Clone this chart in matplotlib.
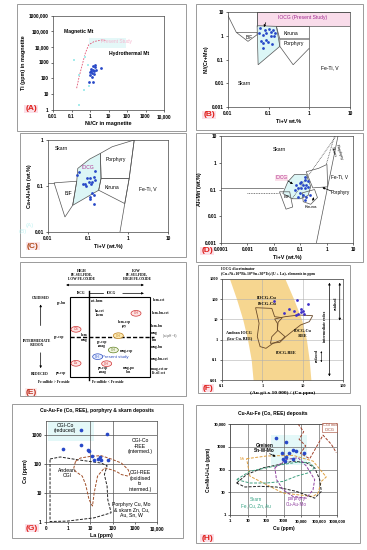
import numpy as np
import matplotlib
matplotlib.use('Agg')
import matplotlib.pyplot as plt
from matplotlib.patches import Rectangle, Polygon, Ellipse
from matplotlib.ticker import NullLocator

plt.rcParams['font.family'] = ['Liberation Sans', 'DejaVu Sans']

# ---------------- data ----------------
# (A) Ti vs Ni/Cr in magnetite
A_nicr = [1.5, 1.8, 1.2, 1.4, 1.6, 1.1, 2.0, 1.3, 1.0, 1.7, 0.9, 1.5, 4.0, 1.9, 0.95, 1.25]
A_ti = [600, 500, 400, 350, 300, 280, 330, 220, 150, 180, 60, 60, 450, 700, 250, 120]
A_nicr_prev = [0.14, 0.26, 0.56, 0.75, 0.49, 0.92, 0.26]
A_ti_prev = [1500, 160, 2400, 700, 18, 30, 2]
A_curve_x = [0.19, 0.26, 0.4, 0.56, 0.85, 1.7, 4.9, 7.4]
A_curve_y = [23, 126, 900, 4000, 13500, 22000, 28000, 25000]

# (B) Ni/(Cr+Mn) vs Ti+V
B_tiv = [0.060, 0.080, 0.10, 0.117, 0.129, 0.088, 0.073, 0.111, 0.134, 0.085, 0.097, 0.124,
         0.073, 0.073, 0.063, 0.058, 0.14]
B_ni = [2.1, 1.8, 1.9, 1.5, 1.8, 1.3, 1.1, 0.94, 0.94, 0.68, 0.53, 0.46, 0.49, 0.30, 0.58, 1.3, 1.3]
B_iocg = [(0.052, 2.65), (0.155, 2.49), (0.188, 0.357), (0.055, 0.06)]
B_kiruna = [(0.155, 2.49), (1.0, 2.49), (1.0, 0.73), (0.188, 0.73)]
B_porph = [(0.188, 0.73), (1.0, 0.73), (1.0, 0.30), (0.40, 0.06), (0.188, 0.357)]
B_bif = [(0.016, 1.39), (0.052, 1.39), (0.052, 1.11), (0.031, 0.58)]
B_left = [(0.01, 7.0), (0.016, 1.39)]

# (C) Ca+Al+Mn vs Ti+V
C_tiv = [0.058, 0.052, 0.094, 0.11, 0.138, 0.153, 0.126, 0.103, 0.085, 0.077, 0.119, 0.090,
         0.126, 0.138, 0.114, 0.11, 0.144, 0.153]
C_caalmn = [0.197, 0.172, 0.146, 0.153, 0.159, 0.134, 0.123, 0.123, 0.113, 0.108, 0.108, 0.101,
            0.069, 0.063, 0.058, 0.052, 0.041, 0.211]
C_bif = [(0.0142, 0.117), (0.0523, 0.127), (0.0414, 0.038), (0.0265, 0.0212)]
C_iocg = [(0.0523, 0.127), (0.0555, 0.241), (0.110, 0.385), (0.204, 0.512), (0.212, 0.146),
          (0.185, 0.081), (0.0414, 0.038)]
C_porph = [(0.204, 0.512), (0.404, 0.715), (1.43, 1.0), (1.07, 0.146), (0.212, 0.146)]
C_kiruna = [(0.212, 0.146), (1.07, 0.146), (0.83, 0.0415), (0.185, 0.081)]
C_fetiv = [(1.43, 1.0), (1.07, 0.146), (0.83, 0.0415), (0.63, 0.01)]

# (D) Al+Mn vs Ti+V
D_tiv = [0.0705, 0.0944, 0.109, 0.146, 0.126, 0.169, 0.0815, 0.109, 0.146, 0.195, 0.061,
         0.0944, 0.126, 0.169, 0.226, 0.0815, 0.146, 0.19, 0.15]
D_almn = [0.145, 0.168, 0.194, 0.224, 0.145, 0.145, 0.109, 0.109, 0.109, 0.126, 0.094,
          0.071, 0.061, 0.053, 0.061, 0.053, 0.040, 0.20, 0.30]
D_iocg = [(0.022, 0.071), (0.034, 0.194), (0.061, 0.365), (0.169, 0.365), (0.25, 0.13),
          (0.20, 0.06), (0.10, 0.045), (0.05, 0.045)]
D_porph = [(0.169, 0.46), (0.5, 0.62), (1.03, 0.866), (1.1, 0.126), (0.30, 0.115)]
D_bif = [(0.0164, 0.082), (0.04, 0.082), (0.052, 0.0222), (0.029, 0.0184)]
D_kiruna = [(0.12, 0.075), (0.35, 0.10), (0.45, 0.05), (0.25, 0.028), (0.13, 0.035)]

# (F) IOCG discriminator
F_ratio = [1.94, 7.3, 13.2, 8.9, 10.2, 4.6, 6.0, 3.5, 7.7, 10.8, 6.9, 8.9]
F_disc = [81, 95, 60, 33, 27, 31, 26, 21.5, 17.8, 17.8, 16.5, 24]
F_band_y = [1000, 100, 10, 1, 0.1, 0.01]
F_band_left = [0.154, 0.23, 0.327, 0.43, 0.53, 0.59]
F_band_right = [3.65, 6.0, 9.4, 12.4, 14.5, 16.0]
F_andean = [(0.68, 38), (1.72, 35), (2.02, 13.6), (3.12, 12.2), (2.46, 7.2), (2.36, 3.0),
            (3.65, 1.40), (2.99, 0.95), (1.83, 0.65), (1.23, 0.37), (0.88, 0.45), (0.75, 1.40),
            (0.83, 6.4)]
F_cuRee = [(2.02, 10.5), (3.65, 13.6), (8.05, 16.5), (17.7, 15.3), (14.6, 7.7), (8.88, 5.3),
           (5.42, 2.47), (3.80, 1.40), (2.71, 0.73), (1.59, 0.65), (1.72, 1.40), (2.36, 2.67),
           (2.36, 6.4)]

# (G) Co vs La
G_la = [0.58, 3.6, 3.6, 56.5, 7.9, 8.7, 12.4, 13.8, 21, 30, 65, 26]
G_co = [320, 1490, 452, 1030, 304, 266, 179, 137, 145, 130, 137, 170]
G_andean = [(0.152, 145), (0.44, 170), (2.55, 137), (30, 105), (56.5, 85), (42.6, 42),
            (56.5, 16.5), (60.7, 5.7), (86, 2.0), (14.8, 1.34), (0.89, 1.03), (0.152, 1.0)]
G_ree = [(2.14, 120), (3.6, 157), (10.4, 179), (30, 189), (86, 145), (248, 105), (501, 62),
         (598, 42), (501, 37), (248, 42), (146, 54), (86, 62), (42.6, 71), (21, 37), (14.8, 9.8),
         (12.4, 3.4), (8.7, 5.7), (6.1, 19), (4.3, 37), (2.14, 54), (1.79, 71)]

# (H) Co+Ni+U+La vs Cu
H_cu = [370, 1340, 875, 3450, 4860, 2060, 1460, 3450, 13600, 950, 1180]
H_sum = [2390, 1700, 514, 723, 653, 551, 366, 298, 514, 278, 234]
H_cgi = [(6560, 10000), (13600, 4560), (7470, 2150), (17600, 1090), (8870, 514), (29400, 298),
         (86100, 1290), (164000, 3240), (479000, 1290), (910000, 551)]
H_orange = [(8.5, 298), (112, 392), (3450, 419), (45200, 234), (251000, 47), (132000, 30),
            (86100, 9.2), (45200, 6.5), (955, 9.2), (73, 25.5), (13.1, 51)]
H_black = [(2.36, 25.5), (8.5, 60), (73, 119), (621, 167), (3450, 234), (19200, 198),
           (56100, 119), (107000, 36), (132000, 10.9), (56100, 5.5), (5300, 10.9), (405, 17),
           (47, 18.2), (6.9, 17)]
H_green = [(2.36, 36), (13.1, 84), (112, 119), (955, 167), (6560, 212), (29400, 198),
           (56100, 119), (23800, 71), (5300, 51), (955, 30), (112, 25.5), (13.1, 25.5)]
H_purple = [(327, 119), (1465, 278), (6560, 330), (19200, 141), (56100, 36), (45200, 12.9),
            (19200, 5.5), (3450, 6.5), (955, 12.9), (405, 36)]

# ---------------- layout helpers ----------------
W, H = 367, 550
fig = plt.figure(figsize=(3.67, 5.5), dpi=100)
fig.patch.set_facecolor('white')
BLUE = '#2848c8'
RED = '#e0201c'

bg = fig.add_axes([0, 0, 1, 1])
bg.set_xlim(0, W)
bg.set_ylim(H, 0)
bg.axis('off')
for (l, t, r, b) in [(17, 4, 186, 131), (196, 4, 363, 130), (20, 133, 186, 257),
                     (196, 133, 363, 262), (20, 262, 186, 396), (198, 265, 350, 393),
                     (12, 404, 183, 538), (196, 405, 360, 543)]:
    bg.add_patch(Rectangle((l, t), r - l, b - t, fill=False, ec='#9a9a9a', lw=0.7))


def axes_px(l, t, r, b):
    return fig.add_axes([l / W, 1 - b / H, (r - l) / W, (b - t) / H])


def style(ax, xlim, ylim, xt, xtl, yt, ytl, xlabel, ylabel, fs=3.4, lfs=3.9):
    ax.set_xscale('log')
    ax.set_yscale('log')
    ax.set_xticks(xt)
    ax.set_xticklabels(xtl)
    ax.set_yticks(yt)
    ax.set_yticklabels(ytl)
    ax.xaxis.set_minor_locator(NullLocator())
    ax.yaxis.set_minor_locator(NullLocator())
    ax.set_xlim(*xlim)
    ax.set_ylim(*ylim)
    ax.tick_params(labelsize=fs, length=1.5, width=0.4, pad=1.5)
    for lb in ax.get_xticklabels() + ax.get_yticklabels():
        lb.set_fontweight('bold')
    ax.set_xlabel(xlabel, fontsize=lfs, fontweight='bold', labelpad=2)
    ax.set_ylabel(ylabel, fontsize=lfs, fontweight='bold', labelpad=2)
    for s in ax.spines.values():
        s.set_linewidth(0.5)
        s.set_color('#444444')


def panel_label(x, y, s, color=RED, bgc='#fbe0e8'):
    bg.text(x, y, s, fontsize=6.0, fontweight='bold', color=color, ha='center', va='center',
            bbox=dict(boxstyle='square,pad=0.1', fc=bgc, ec='none'))


def poly(ax, pts, **kw):
    ax.add_patch(Polygon(pts, closed=True, **kw))


def line(ax, pts, **kw):
    xs, ys = zip(*pts)
    ax.plot(xs, ys, **kw)

# ---------------- (A) ----------------
axA = axes_px(53, 15.5, 164, 109.5)
style(axA, (0.01, 10000), (1, 1e6), [0.01, 0.1, 1, 10, 100, 1000, 10000],
      ['0.01', '0.1', '1', '10', '100', '1000', '10,000'],
      [1, 10, 100, 1000, 1e4, 1e5, 1e6], ['1', '10', '100', '1000', '10,000', '100,000', '1000,000'],
      'Ni/Cr in magnetite', 'Ti (ppm) in magnetite')
axA.add_patch(Rectangle((0.9, 9000), 90, 30000, fc='#e4f8f8', ec='none', zorder=0))
axA.text(4, 22000, 'Present Study', fontsize=3.5, color='#f4b8d0', ha='left', va='center')
axA.plot(A_curve_x, A_curve_y, ls=(0, (2, 1.5)), color='#e05070', lw=0.6)
axA.scatter(A_nicr_prev, A_ti_prev, s=2, color='#a8ecec', marker='s', lw=0, zorder=2)
axA.scatter(A_nicr, A_ti, s=4, color=BLUE, lw=0, zorder=3)
axA.text(0.04, 9e4, 'Magnetic Mt', fontsize=3.6, fontweight='bold', ha='left', va='center')
axA.text(11, 3500, 'Hydrothermal Mt', fontsize=3.6, fontweight='bold', ha='left', va='center')
panel_label(31, 109, '(A)')

# ---------------- (B) ----------------
axB = axes_px(228, 12, 350, 107)
style(axB, (0.01, 10), (0.001, 10), [0.01, 0.1, 1, 10], ['0.01', '0.1', '1', '10'],
      [0.001, 0.01, 0.1, 1, 10], ['0.001', '0.01', '0.1', '1', '10'], 'Ti+V wt.%', 'Ni/(Cr+Mn)')
axB.add_patch(Rectangle((0.052, 2.65), 10 - 0.052, 10 - 2.65, fc='#f9dcea', ec='#555555', lw=0.5, zorder=0))
poly(axB, B_iocg, fc='#dcf6f6', ec='#555555', lw=0.5, zorder=1)
poly(axB, B_kiruna, fill=False, ec='#555555', lw=0.5)
poly(axB, B_porph, fill=False, ec='#555555', lw=0.5)
poly(axB, B_bif, fill=False, ec='#555555', lw=0.5)
line(axB, B_left, color='#555555', lw=0.5)
line(axB, [(0.052, 10), (0.052, 2.65)], color='#555555', lw=0.5)
line(axB, [(1.0, 0.30), (1.0, 0.001)], color='#555555', lw=0.5)
axB.scatter(B_tiv, B_ni, s=4, color=BLUE, lw=0, zorder=3)
axB.annotate('', xy=(0.072, 1.8), xytext=(0.09, 4.6),
             arrowprops=dict(arrowstyle='-|>', lw=0.5, color='black', mutation_scale=3))
axB.text(0.7, 6.1, 'IOCG (Present Study)', fontsize=3.6, color='#a02890', ha='center', va='center')
axB.text(0.034, 0.88, 'BIF', fontsize=3.3, ha='center', va='center')
axB.text(0.36, 1.3, 'Kiruna', fontsize=3.6, ha='center', va='center')
axB.text(0.42, 0.48, 'Porphyry', fontsize=3.6, ha='center', va='center')
axB.text(0.026, 0.0095, 'Skarn', fontsize=3.6, ha='center', va='center')
axB.text(3.2, 0.044, 'Fe-Ti, V', fontsize=3.6, ha='center', va='center')
panel_label(209, 115, '(B)')

# ---------------- (C) ----------------
axC = axes_px(48, 140, 168, 232)
style(axC, (0.01, 10), (0.01, 1), [0.01, 0.1, 1, 10], ['0.01', '0.1', '1', '10'],
      [0.01, 0.1, 1], ['0.01', '0.1', '1'], 'Ti+V (wt.%)', 'Ca+Al+Mn (wt.%)')
poly(axC, C_iocg, fc='#dcf6f6', ec='#555555', lw=0.5, zorder=1)
poly(axC, C_bif, fill=False, ec='#555555', lw=0.5)
poly(axC, C_porph, fill=False, ec='#555555', lw=0.5)
poly(axC, C_kiruna, fill=False, ec='#555555', lw=0.5)
line(axC, C_fetiv, color='#555555', lw=0.5)
line(axC, [(0.01, 0.117), (0.0142, 0.117)], color='#555555', lw=0.5)
axC.scatter(C_tiv, C_caalmn, s=4, color=BLUE, lw=0, zorder=3)
axC.text(0.022, 0.64, 'Skarn', fontsize=3.6, ha='center', va='center')
axC.text(0.49, 0.385, 'Porphyry', fontsize=3.6, ha='center', va='center')
axC.text(0.097, 0.25, 'IOCG', fontsize=3.6, color='#b03090', ha='center', va='center')
axC.text(0.40, 0.091, 'Kiruna', fontsize=3.6, ha='center', va='center')
axC.text(0.032, 0.068, 'BIF', fontsize=3.6, ha='center', va='center')
axC.text(3.1, 0.088, 'Fe-Ti, V', fontsize=3.6, ha='center', va='center')
bg.text(30, 226, '(A)', fontsize=4.5, color='#b8f0f0', ha='center', va='center', alpha=0.8)
bg.text(23, 232, '(B)', fontsize=4.5, color='#b8f0f0', ha='center', va='center', alpha=0.8)
panel_label(33, 246, '(C)', color='#b04818', bgc='#fbe6ea')

# ---------------- (D) ----------------
axD = axes_px(221, 136, 353, 243)
style(axD, (0.0001, 10), (0.001, 10), [0.0001, 0.001, 0.01, 0.1, 1, 10],
      ['0.0001', '0.001', '0.01', '0.1', '1', '10'],
      [0.001, 0.01, 0.1, 1, 10], ['0.001', '0.01', '0.1', '1', '10'], 'Ti+V (wt.%)', 'Al+Mn (wt.%)')
line(axD, [(0.0001, 0.115), (0.022, 0.115)], color='#555555', lw=0.5)
line(axD, [(0.001, 0.071), (0.0163, 0.071)], color='#555555', lw=0.6, ls=(0, (1, 1)))
line(axD, [(0.05, 0.046), (2.2, 9.4)], color='#555555', lw=0.6, ls=(0, (1, 1)))
line(axD, [(2.0, 10), (0.97, 0.87)], color='#555555', lw=0.6, ls=(0, (1, 1)))
line(axD, [(2.7, 10), (1.1, 0.126), (0.41, 0.001)], color='#555555', lw=0.5)
poly(axD, D_iocg, fc='#dcf6f6', ec='#555555', lw=0.5, zorder=1)
poly(axD, D_porph, fill=False, ec='#555555', lw=0.5)
poly(axD, D_bif, fill=False, ec='#555555', lw=0.5)
poly(axD, D_kiruna, fill=False, ec='#555555', lw=0.5)
axD.scatter(D_tiv, D_almn, s=4, color=BLUE, lw=0, zorder=3)
axD.text(0.0164, 3.0, 'Skarn', fontsize=3.6, ha='center', va='center')
axD.text(3.0, 0.30, 'Fe-Ti, V', fontsize=3.4, ha='center', va='center')
axD.text(3.4, 0.075, 'Porphyry', fontsize=3.4, ha='center', va='center')
axD.text(0.020, 0.27, 'IOCG', fontsize=3.4, color='#b03090', ha='center', va='center',
         bbox=dict(boxstyle='square,pad=0.1', fc='#fbe0ea', ec='none'))
axD.text(0.031, 0.052, 'BIF', fontsize=3.0, ha='center', va='center')
axD.text(0.26, 0.022, 'Kiruna', fontsize=3.2, ha='center', va='center')
axD.text(1.75, 2.5, 'Skarn', fontsize=3.0, rotation=-72, ha='center', va='center')
axD.text(2.9, 2.5, 'Porphyry', fontsize=3.0, rotation=-72, ha='center', va='center')
axD.annotate('', xy=(0.065, 0.14), xytext=(0.028, 0.24),
             arrowprops=dict(arrowstyle='-|>', lw=0.5, color='black', mutation_scale=3))
axD.annotate('', xy=(0.55, 0.13), xytext=(1.9, 0.08),
             arrowprops=dict(arrowstyle='-|>', lw=0.5, color='black', mutation_scale=3))
axD.annotate('', xy=(0.35, 0.065), xytext=(0.28, 0.03),
             arrowprops=dict(arrowstyle='-|>', lw=0.5, color='black', mutation_scale=3))
panel_label(207, 251, '(D)')

# ---------------- (E) schematic ----------------
axE = axes_px(0, 265, 185, 405)
axE.set_xlim(0, 555)
axE.set_ylim(420, 0)
axE.axis('off')
ser = dict(family=['Liberation Serif', 'DejaVu Serif'], fontweight='bold', ha='center', va='center')
fsE = 2.6
axE.text(245, 30, 'HIGH\nFE-SULFIDE,\nLOW FE-OXIDE', fontsize=fsE, linespacing=1.1, **ser)
axE.text(410, 30, 'LOW\nFE-SULFIDE,\nHIGH FE-OXIDE', fontsize=fsE, linespacing=1.1, **ser)
axE.annotate('', xy=(440, 60), xytext=(190, 60),
             arrowprops=dict(arrowstyle='<|-|>', lw=0.5, color='black', mutation_scale=3))
axE.text(245, 85, 'ISCG', fontsize=fsE, **ser)
axE.text(335, 85, 'IOCG', fontsize=fsE, **ser)
axE.plot([268, 310], [85, 85], color='black', lw=0.5)
axE.annotate('', xy=(440, 85), xytext=(360, 85),
             arrowprops=dict(arrowstyle='-|>', lw=0.5, color='black', mutation_scale=3))
axE.add_patch(Rectangle((210, 95), 240, 240, fill=False, ec='black', lw=0.8))
axE.plot([268, 268], [78, 345], color='black', lw=1.0)
axE.plot([210, 462], [215, 215], color='black', lw=1.0, ls=(0, (3, 1.5)))
axE.text(122, 100, 'OXIDISED', fontsize=fsE, **ser)
axE.annotate('', xy=(122, 110), xytext=(122, 190),
             arrowprops=dict(arrowstyle='-|>', lw=0.5, color='black', mutation_scale=3))
axE.text(112, 235, 'INTERMEDIATE\n-REDOX', fontsize=fsE, linespacing=1.1, **ser)
axE.annotate('', xy=(122, 318), xytext=(122, 255),
             arrowprops=dict(arrowstyle='-|>', lw=0.5, color='black', mutation_scale=3))
axE.text(118, 327, 'REDUCED', fontsize=fsE, **ser)
for (x, y, s) in [(185, 115, 'py-bn'), (178, 215, 'py-ccp'), (182, 325, 'po-ccp'),
                  (292, 107, 'cct-hem'), (298, 143, 'bn-cct\n-hem'), (372, 177, 'hem-ccp\n-py'),
                  (254, 209, 'hem'), (252, 226, 'mag'), (306, 238, 'py-ccp\n-mag'),
                  (380, 258, 'mag-ccp'), (308, 316, 'po-ccp\n-mag'), (385, 316, 'mag-po\n-bn'),
                  (478, 105, 'hem-cct'), (482, 145, 'hem-bn-cct'), (470, 183, 'hem-bn'),
                  (462, 204, 'mag'), (462, 224, 'hm'), (472, 245, 'mag-bn'),
                  (480, 282, 'mag-bn-cct'), (478, 317, 'mag-cct or\nFe-sil-cct'),
                  (160, 352, 'Fe sulfide > Fe oxide'), (322, 352, 'Fe sulfide < Fe oxide')]:
    axE.text(x, y, s, fontsize=fsE, linespacing=1.1, **ser)
axE.text(510, 212, '(at pH ~6)', fontsize=2.2, color='#555555', ha='center', va='center')
axE.text(345, 275, 'Present study', fontsize=3.2, color='#3050c0', ha='center', va='center')
for (x, y, s, ec, fc) in [(228, 193, 'OS', '#d03030', '#fde4e4'), (408, 145, 'OH', '#d03030', '#fde4e4'),
                          (355, 212, 'OH', '#c08020', '#fbe8b0'), (340, 255, 'OH', '#608020', '#f0f4e0'),
                          (228, 295, 'Do', '#d03030', '#fde4e4'), (320, 296, 'OH', '#d03030', '#fde4e4'),
                          (293, 275, 'CH', '#3050c0', '#e4ecff')]:
    axE.add_patch(Ellipse((x, y), 30, 17, fc=fc, ec=ec, lw=0.5, zorder=3))
    axE.text(x, y, s, fontsize=2.3, color=ec, ha='center', va='center', zorder=4)
panel_label(31, 392, '(E)', color='#c03020', bgc='#fdecec')

# ---------------- (F) ----------------
axF = axes_px(222, 279, 343, 380)
style(axF, (0.1, 100), (0.01, 1000), [0.1, 1, 10, 100], ['0.1', '1', '10', '100'],
      [0.01, 0.1, 1, 10, 100, 1000], ['0.01', '0.1', '1', '10', '100', '1000'],
      '(Au g/t x 10 000) / (Cu ppm)', '', fs=3.2)
for lb in axF.get_xticklabels() + axF.get_yticklabels():
    lb.set_family(['Liberation Serif', 'DejaVu Serif'])
axF.xaxis.label.set_family(['Liberation Serif', 'DejaVu Serif'])
axF.grid(True, color='#b0b0b0', lw=0.4)
axF.fill_betweenx(F_band_y, F_band_left, F_band_right, color='#f6d690', lw=0, zorder=0)
poly(axF, F_andean, fill=False, ec='#6a4a2a', lw=0.6, zorder=2)
poly(axF, F_cuRee, fill=False, ec='#6a4a2a', lw=0.6, zorder=2)
axF.scatter(F_ratio, F_disc, s=4, color='#4030c8', lw=0, zorder=3)
sF = dict(family=['Liberation Serif', 'DejaVu Serif'], fontweight='bold', ha='center', va='center')
axF.text(1.31, 110, 'IOCG-Cu', fontsize=3.3, **sF)
axF.text(1.31, 56, 'ISCG-Cu', fontsize=3.3, **sF)
axF.text(0.27, 1.6, 'Andean IOCG\n(low Cu, REE)', fontsize=3.0, linespacing=1.1, **sF)
axF.text(10.2, 2.0, 'IOCG-Cu\n-REE', fontsize=3.0, linespacing=1.1, **sF)
axF.text(3.8, 0.21, 'IOCG-REE', fontsize=3.0, **sF)
axF.annotate('', xy=(46, 0.011), xytext=(46, 900),
             arrowprops=dict(arrowstyle='<|-|>', lw=0.5, color='black', mutation_scale=3))
axF.annotate('', xy=(83, 6.4), xytext=(83, 900),
             arrowprops=dict(arrowstyle='<|-|>', lw=0.5, color='black', mutation_scale=3))
axF.annotate('', xy=(29, 0.055), xytext=(29, 0.37),
             arrowprops=dict(arrowstyle='<|-|>', lw=0.4, color='black', mutation_scale=2))
axF.text(36, 4.4, 'intermediate redox', fontsize=2.8, rotation=90, **sF)
axF.text(66, 62, 'oxidised', fontsize=2.8, rotation=90, **sF)
axF.text(23, 0.17, 'reduced', fontsize=2.8, rotation=90, **sF)
bg.text(221, 268.5, 'IOCG discriminator', fontsize=2.8, family=['Liberation Serif', 'DejaVu Serif'],
        fontweight='bold', ha='left', va='center')
bg.text(221, 273.5, '(Cu+Ni+10*Bi+10*Sn+30*Te)/(U + La), elements in ppm', fontsize=2.8,
        family=['Liberation Serif', 'DejaVu Serif'], fontweight='bold', ha='left', va='center')
panel_label(208, 388, '(F)')

# ---------------- (G) ----------------
axG = axes_px(46, 420.5, 157, 521.5)
style(axG, (0.1, 10000), (1, 3100), [0.1, 1, 10, 100, 1000, 10000],
      ['0', '1', '10', '100', '1000', '10,000'], [1, 10, 100, 1000], ['1', '10', '100', '1000'],
      'La (ppm)', 'Co (ppm)')
axG.add_patch(Rectangle((0.12, 600), 15, 2400, fc='#e4f8f8', ec='none', zorder=0))
for v in [10, 100]:
    axG.axvline(v, color='#555555', lw=0.5, zorder=1)
for v in [10, 100, 1000]:
    axG.axhline(v, color='#555555', lw=0.5, zorder=1)
poly(axG, G_andean, fill=False, ec='#222222', lw=0.7, ls=(0, (3, 1.5)), zorder=2)
poly(axG, G_ree, fill=False, ec='#a0502a', lw=0.7, ls=(0, (3, 1.5)), zorder=2)
axG.scatter(G_la, G_co, s=7, color=BLUE, lw=0, zorder=3)
sG = dict(fontsize=3.7, ha='center', va='center', linespacing=1.1)
axG.text(0.74, 1700, 'CGI-Co\n(reduced)', **sG)
axG.text(1720, 396, 'CGI-Co\n-REE\n(intermed.)', **sG)
axG.text(0.89, 48, 'Andean\nCGI', **sG)
axG.text(1720, 25, 'CGI-REE\n(oxidised\nto\nintermed.)', **sG)
axG.text(720, 2.6, 'Porphyry Cu, Mo\n& skarn Zn, Cu,\nAu, Sn, W', **sG)
bg.text(97, 410.5, 'Cu-Au-Fe (Co, REE), porphyry & skarn deposits', fontsize=3.6, fontweight='bold',
        ha='center', va='center')
panel_label(32, 528, '(G)')

# ---------------- (H) ----------------
axH = axes_px(230, 424, 337, 515)
style(axH, (1, 1e6), (1, 1e4), [1, 10, 100, 1000, 1e4, 1e5, 1e6],
      ['1', '10', '100', '1000', '10,000', '100,000', '1000,000'],
      [1, 10, 100, 1000, 1e4], ['1', '10', '100', '1000', '10,000'], 'Cu (ppm)', 'Co+Ni+U+La (ppm)',
      fs=3.1, lfs=3.5)
axH.grid(True, color='#707070', lw=0.5)
axH.add_patch(Rectangle((200, 150), 20000, 3000, fc='#e4f8f8', ec='none', zorder=0))
line(axH, H_cgi, color='#a0402a', lw=0.7, ls=(0, (3, 1.5)), zorder=2)
poly(axH, H_orange, fill=False, ec='#e0a040', lw=0.7, ls=(0, (3, 1.5)), zorder=2)
poly(axH, H_black, fill=False, ec='#222222', lw=0.7, ls=(0, (3, 1.5)), zorder=2)
poly(axH, H_green, fill=False, ec='#40a080', lw=0.7, ls=(0, (3, 1.5)), zorder=2)
poly(axH, H_purple, fill=False, ec='#9040a0', lw=0.7, ls=(0, (3, 1.5)), zorder=2)
axH.scatter(H_cu, H_sum, s=7, color=BLUE, lw=0, zorder=3)
axH.text(83, 890, 'Greisen\nSn-W-Mo', fontsize=3.4, fontweight='bold', ha='center', va='center',
         linespacing=1.1)
axH.annotate('', xy=(500, 330), xytext=(120, 560),
             arrowprops=dict(arrowstyle='-|>', lw=0.5, color='black', mutation_scale=3))
axH.text(28, 3.5, 'Skarn\nFe, Cu, Zn, Au', fontsize=3.3, color='#30a080', ha='center', va='center',
         linespacing=1.1)
axH.text(5300, 3.9, 'porphyry\nCu-Au-Mo', fontsize=3.3, color='#9040a0', ha='center', va='center',
         linespacing=1.1)
axH.text(4.5, 278, 'Mt', fontsize=3.0, color='#e0a040', ha='center', va='center')
axH.text(390000, 7100, 'CGI incl\nIOCG', fontsize=2.8, color='#a0402a', ha='center', va='center',
         linespacing=1.1, bbox=dict(boxstyle='square,pad=0.15', fc='white', ec='#a0402a', lw=0.4))
bg.text(273, 414, 'Cu-Au-Fe (Co, REE) deposits', fontsize=3.6, fontweight='bold', ha='center', va='center')
panel_label(207, 538, '(H)')

fig.savefig('out.png', dpi=100, facecolor='white')
